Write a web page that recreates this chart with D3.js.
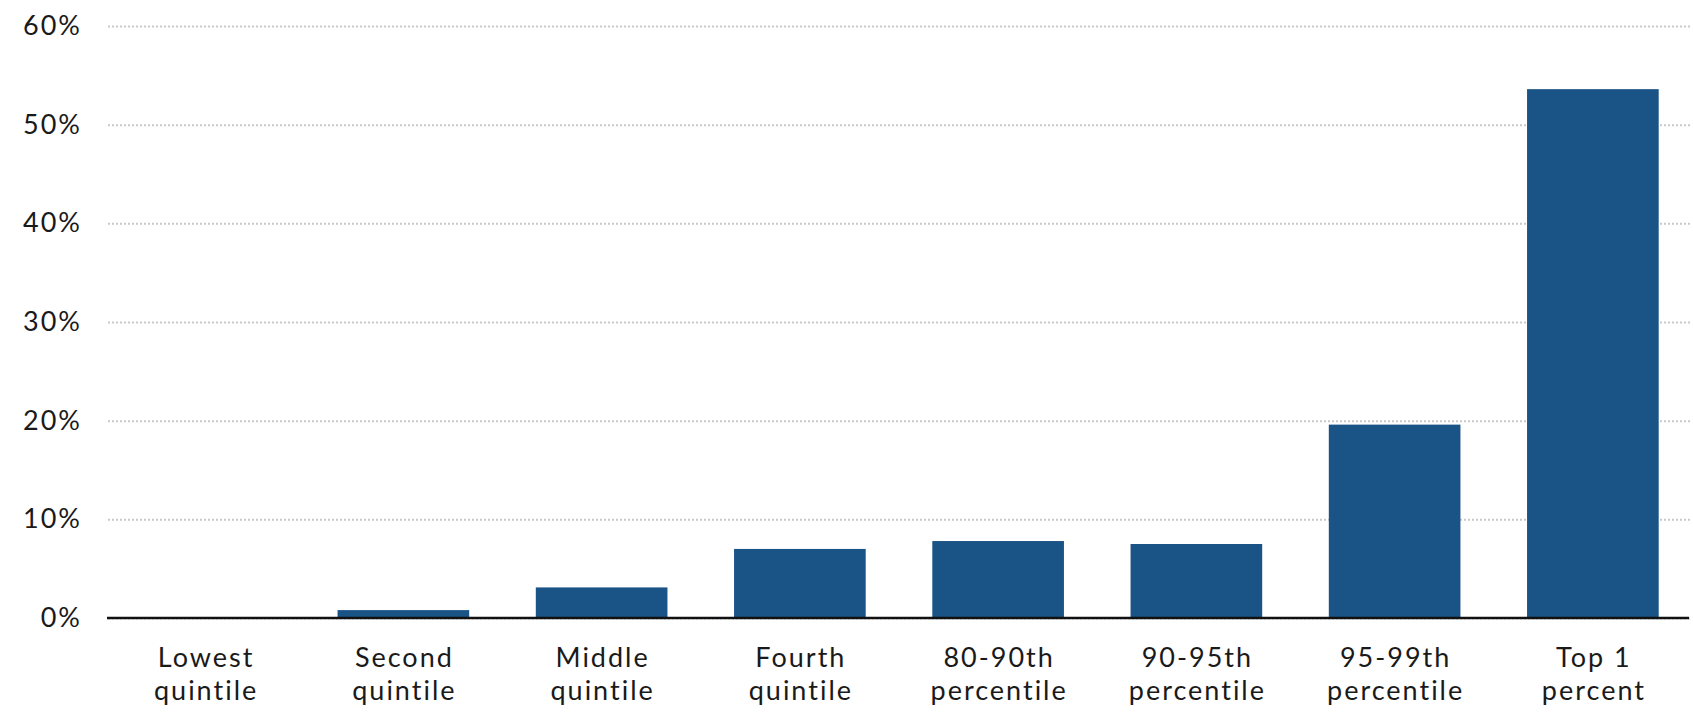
<!DOCTYPE html>
<html>
<head>
<meta charset="utf-8">
<script src="https://cdn.jsdelivr.net/npm/d3@7/dist/d3.min.js"></script>
<style>
  html, body { margin: 0; padding: 0; background: #fff; }
  svg { display: block; }
  text { font-family: Lato, "Open Sans", sans-serif; fill: #1a1a1a; letter-spacing: 2px; font-variant-ligatures: none; }
</style>
</head>
<body>
<svg id="chart" width="1693" height="713"></svg>
<script>
// Income groups (two-line labels) and their shares, in percent
const groupLines = [
  ["Lowest", "quintile"],
  ["Second", "quintile"],
  ["Middle", "quintile"],
  ["Fourth", "quintile"],
  ["80-90th", "percentile"],
  ["90-95th", "percentile"],
  ["95-99th", "percentile"],
  ["Top 1", "percent"]
];
const shareValues = [0.0, 0.8, 3.1, 7.0, 7.8, 7.5, 19.6, 53.6];
const yTicks = [0, 10, 20, 30, 40, 50, 60];

const svg = d3.select("#chart");
const margin = { top: 26, right: 1, bottom: 95, left: 106 };
const width = 1693, height = 713;
const fontFamily = "Lato, 'Open Sans', sans-serif";
const fontSize = 27;

const groups = groupLines.map(d => d.join(" "));

const x = d3.scaleBand()
  .domain(groups)
  .range([margin.left, width - margin.right])
  .paddingInner(0.336)
  .paddingOuter(0.168);

const y = d3.scaleLinear()
  .domain([0, 60])
  .range([height - margin.bottom, margin.top]);

// dotted horizontal gridlines with tick labels
const yAxis = d3.axisLeft(y)
  .tickValues(yTicks)
  .tickFormat(d => d + "%")
  .tickSize(-(width - margin.left - 5))
  .tickPadding(26);

const gy = svg.append("g")
  .attr("transform", `translate(${margin.left + 2},0)`)
  .call(yAxis);
gy.select(".domain").remove();
gy.selectAll(".tick line")
  .attr("stroke", "#c9c9c9")
  .attr("stroke-width", 2)
  .attr("stroke-dasharray", "2,2");
gy.selectAll(".tick text")
  .attr("font-size", fontSize)
  .attr("fill", "#1a1a1a")
  .style("font-family", fontFamily);

// bars
svg.append("g")
  .selectAll("rect")
  .data(shareValues)
  .join("rect")
  .attr("x", (d, i) => x(groups[i]))
  .attr("width", x.bandwidth())
  .attr("y", d => y(d))
  .attr("height", d => y(0) - y(d))
  .attr("fill", "#1a5386");

// baseline
svg.append("line")
  .attr("x1", margin.left + 1)
  .attr("x2", width - 4)
  .attr("y1", y(0))
  .attr("y2", y(0))
  .attr("stroke", "#111")
  .attr("stroke-width", 2.5);

// category labels, two lines each
const xAxis = d3.axisBottom(x).tickSize(0).tickFormat("");
const gx = svg.append("g")
  .attr("transform", `translate(0,${y(0)})`)
  .call(xAxis);
gx.select(".domain").remove();
gx.selectAll(".tick")
  .each(function(d, i) {
    const t = d3.select(this).append("text")
      .attr("text-anchor", "middle")
      .attr("font-size", fontSize)
      .attr("fill", "#1a1a1a")
      .style("font-family", fontFamily);
    groupLines[i].forEach((line, k) => {
      t.append("tspan")
        .attr("x", 1)
        .attr("y", 49 + k * 32.6)
        .text(line);
    });
  });
</script>
</body>
</html>
